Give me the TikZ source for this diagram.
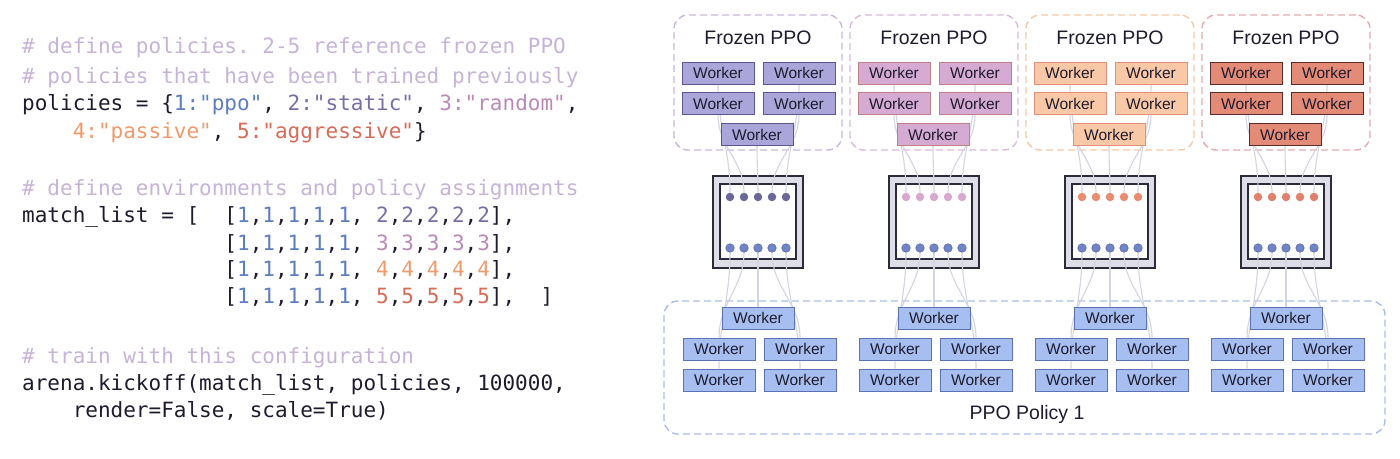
\documentclass[tikz,border=0pt]{standalone}
\usepackage{fontspec}
\setmainfont{Liberation Sans}
\newfontfamily\codefont{DejaVu Sans Mono}
\usetikzlibrary{positioning}
\definecolor{arenatext}{HTML}{1E1B2E}
\definecolor{arenacomment}{HTML}{C6B3D6}
\definecolor{arenablue}{HTML}{5B7DC3}
\definecolor{arenapurple}{HTML}{7A6DA6}
\definecolor{arenamauve}{HTML}{B98AB6}
\definecolor{arenaorange}{HTML}{EE9A6C}
\definecolor{arenared}{HTML}{D86B57}
\definecolor{frozAdash}{HTML}{C8B6DE}
\definecolor{frozAfill}{HTML}{ABA6DA}
\definecolor{frozAdraw}{HTML}{5B5690}
\definecolor{frozAdot}{HTML}{6B6799}
\definecolor{frozBdash}{HTML}{D9B9DB}
\definecolor{frozBfill}{HTML}{D5AAD3}
\definecolor{frozBdraw}{HTML}{C27F86}
\definecolor{frozBdot}{HTML}{D8A9CF}
\definecolor{frozCdash}{HTML}{F4C9A5}
\definecolor{frozCfill}{HTML}{F8C8A7}
\definecolor{frozCdraw}{HTML}{E58F78}
\definecolor{frozCdot}{HTML}{EA8C6F}
\definecolor{frozDdash}{HTML}{E2AAB2}
\definecolor{frozDfill}{HTML}{E38B77}
\definecolor{frozDdraw}{HTML}{5B2B2B}
\definecolor{frozDdot}{HTML}{E0806E}
\definecolor{envgray}{HTML}{DEDEE6}
\definecolor{envline}{HTML}{2C2B3B}
\definecolor{ppodot}{HTML}{7184C6}
\definecolor{ppodotline}{HTML}{5A6CAE}
\definecolor{ppofill}{HTML}{A7BFF0}
\definecolor{ppodraw}{HTML}{5A72B4}
\definecolor{ppodash}{HTML}{ABBEE8}
\definecolor{linkgray}{HTML}{D3D3E1}
\pgfdeclarelayer{back}
\pgfdeclarelayer{mid}
\pgfsetlayers{back,mid,main}
\newcommand{\polone}[1]{\textcolor{arenablue}{#1}}
\newcommand{\poltwo}[1]{\textcolor{arenapurple}{#1}}
\newcommand{\polthree}[1]{\textcolor{arenamauve}{#1}}
\newcommand{\polfour}[1]{\textcolor{arenaorange}{#1}}
\newcommand{\polfive}[1]{\textcolor{arenared}{#1}}
\newcommand{\digrow}[2]{\textcolor{#1}{#2},\textcolor{#1}{#2},\textcolor{#1}{#2},\textcolor{#1}{#2},\textcolor{#1}{#2}}

\begin{document}
\begin{tikzpicture}[x=1pt, y=-1pt,
  codeline/.style={anchor=base west, inner sep=0pt, text=arenatext, font=\codefont\fontsize{21}{21}\selectfont\frenchspacing},
  frozentitle/.style={inner sep=0pt, text=arenatext, font=\fontsize{19.5}{20}\selectfont},
  worker/.style={draw, line width=1pt, minimum width=72pt, minimum height=22pt, inner sep=0pt, text=arenatext, font=\fontsize{15.5}{16}\selectfont},
  dashbox/.style={draw, dash pattern=on 7pt off 4pt, line width=1.4pt, rounded corners=14pt},
  envframe/.style={draw=envline, line width=2pt, fill=envgray, minimum width=90pt, minimum height=92pt, inner sep=0pt},
  envinner/.style={draw=envline, line width=1.5pt, fill=white, minimum width=76pt, minimum height=75pt, inner sep=0pt},
  envdot/.style={circle, minimum size=8.5pt, inner sep=0pt},
  link/.style={draw=linkgray, line width=1.1pt}]
\useasboundingbox (0,0) rectangle (1400,458);

\node[codeline, text=arenacomment] (c1) at (22,53) {\# define policies. 2-5 reference frozen PPO};
\node[codeline, text=arenacomment] (c2) at (22,83) {\# policies that have been trained previously};
\node[codeline] (c3) at (22,110) {policies = \{\polone{1:"ppo"}, \poltwo{2:"static"}, \polthree{3:"random"},};
\node[codeline] (c4) at (22,138) {\hphantom{xxxx}\polfour{4:"passive"}, \polfive{5:"aggressive"}\}};
\node[codeline, text=arenacomment] (c5) at (22,195) {\# define environments and policy assignments};
\node[codeline] (c6) at (22,222) {match\_list = [\ \ [\digrow{arenablue}{1}, \digrow{arenapurple}{2}],};
\node[codeline] (c7) at (22,250) {\hphantom{xxxxxxxxxxxxxxxx}[\digrow{arenablue}{1}, \digrow{arenamauve}{3}],};
\node[codeline] (c8) at (22,276) {\hphantom{xxxxxxxxxxxxxxxx}[\digrow{arenablue}{1}, \digrow{arenaorange}{4}],};
\node[codeline] (c9) at (22,303) {\hphantom{xxxxxxxxxxxxxxxx}[\digrow{arenablue}{1}, \digrow{arenared}{5}],\ \ ]};
\node[codeline, text=arenacomment] (c10) at (22,363) {\# train with this configuration};
\node[codeline] (c11) at (22,390) {arena.kickoff(match\_list, policies, 100000,};
\node[codeline] (c12) at (22,417) {\hphantom{xxxx}render=False, scale=True)};

\begin{pgfonlayer}{back}
\node[dashbox, draw=ppodash, minimum width=721pt, minimum height=133pt] (ppo) at (1024.5,367.5) {};
\end{pgfonlayer}
\node[frozentitle] (ppolabel) at (1027,414) {PPO Policy 1};

\foreach \i/\cx/\wfill/\wdraw/\boxc/\dotc in {1/758/frozAfill/frozAdraw/frozAdash/frozAdot,
    2/934/frozBfill/frozBdraw/frozBdash/frozBdot,
    3/1110/frozCfill/frozCdraw/frozCdash/frozCdot,
    4/1286/frozDfill/frozDdraw/frozDdash/frozDdot} {
  \begin{pgfonlayer}{back}
    \node[dashbox, draw=\boxc, minimum width=168pt, minimum height=135pt] (frozen\i) at (\cx,82.5) {};
    \node[envframe] (env\i) at (\cx,222) {};
    \node[envinner] (envin\i) at (\cx,221.5) {};
  \end{pgfonlayer}
  \node[frozentitle] (ftitle\i) at (\cx,38) {Frozen PPO};
  \node[worker, fill=\wfill, draw=\wdraw] (fw\i-a) at (\cx-40,73) {Worker};
  \node[worker, fill=\wfill, draw=\wdraw] (fw\i-b) at (\cx+41,73) {Worker};
  \node[worker, fill=\wfill, draw=\wdraw] (fw\i-c) at (\cx-40,103.5) {Worker};
  \node[worker, fill=\wfill, draw=\wdraw] (fw\i-d) at (\cx+41,103.5) {Worker};
  \node[worker, fill=\wfill, draw=\wdraw] (fw\i-e) at (\cx-1,134.5) {Worker};
  \foreach \k in {1,...,5} {
    \node[envdot, fill=\dotc] (td\i-\k) at (\cx-42+14*\k,197) {};
    \node[envdot, fill=ppodot, draw=ppodotline, line width=0.6pt] (bd\i-\k) at (\cx-42+14*\k,248) {};
  }
  \node[worker, fill=ppofill, draw=ppodraw] (bw\i-a) at (\cx,318) {Worker};
  \node[worker, fill=ppofill, draw=ppodraw] (bw\i-b) at (\cx-39,349) {Worker};
  \node[worker, fill=ppofill, draw=ppodraw] (bw\i-c) at (\cx+42,349) {Worker};
  \node[worker, fill=ppofill, draw=ppodraw] (bw\i-d) at (\cx-39,380) {Worker};
  \node[worker, fill=ppofill, draw=ppodraw] (bw\i-e) at (\cx+42,380) {Worker};
  \begin{pgfonlayer}{mid}
    \foreach \w/\k in {a/1,c/2,e/3,d/4,b/5}
      \draw[link] (fw\i-\w.south) to[out=-90,in=90] (td\i-\k.north);
    \foreach \k/\w in {1/d,2/b,3/a,4/c,5/e}
      \draw[link] (bd\i-\k.south) to[out=-90,in=90] (bw\i-\w.north);
  \end{pgfonlayer}
}
\end{tikzpicture}
\end{document}
